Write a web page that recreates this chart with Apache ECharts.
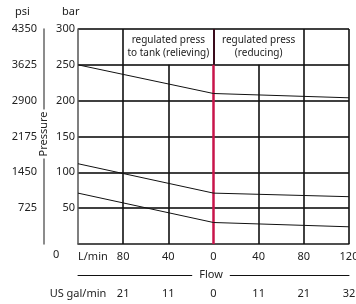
<!DOCTYPE html>
<html>
<head>
<meta charset="utf-8">
<script src="https://cdn.jsdelivr.net/npm/echarts@6/dist/echarts.min.js"></script>
<style>
  html, body { margin: 0; padding: 0; background: #fff; }
  #main { width: 356px; height: 304px; }
</style>
</head>
<body>
<div id="main"></div>
<script>
// flow, L/min (left half = relieving, shown as negative)
var flowTicks = [-120, -80, -40, 0, 40, 80, 120];
var lpmLabels = ['L/min', '80', '40', '0', '40', '80', '120'];
var gpmLabels = ['US gal/min', '21', '11', '0', '11', '21', '32'];

// pressure curves, bar
var flowPts = [-120, 0, 120];
var curveHigh = [250, 210, 204];
var curveMid = [112, 71, 66];
var curveLow = [71, 30, 24];

// grid columns
var fullCols = [-80, 80, 120];
var lowerCols = [-40, 40];
var cellNames = ['regulated press\nto tank (relieving)', 'regulated press\n(reducing)'];

var font = 'Noto Sans';
var txt = '#222';

function lblFrom(list) {
    return function (v) {
        var i = flowTicks.indexOf(v);
        return i < 0 ? '' : list[i];
    };
}

var chart = echarts.init(document.getElementById('main'));

var vLines = [];
fullCols.forEach(function (x) {
    vLines.push([{ coord: [x, 0] }, { coord: [x, 300] }]);
});
lowerCols.forEach(function (x) {
    vLines.push([{ coord: [x, 0] }, { coord: [x, 250] }]);
});
// centre line: red below the header, dark inside it
vLines.push([{ coord: [0, 0], lineStyle: { color: '#c8144a', width: 2.5 } }, { coord: [0, 250] }]);
vLines.push([{ coord: [0, 250], lineStyle: { color: '#3a0c1c', width: 2 } }, { coord: [0, 300] }]);

var option = {
    animation: false,
    textStyle: { fontFamily: font },
    grid: { left: 78, right: 7, top: 29, bottom: 60, outerBoundsMode: 'none' },
    xAxis: [{
        type: 'value', min: -120, max: 120, interval: 40,
        axisLine: { show: true, onZero: false, lineStyle: { color: '#555', width: 1.5 } },
        axisTick: { show: false },
        splitLine: { show: false },
        axisLabel: { color: txt, fontSize: 11, margin: 7, alignMinLabel: 'left', formatter: lblFrom(lpmLabels) }
    }, {
        type: 'value', min: -120, max: 120, interval: 40, position: 'bottom', offset: 31,
        axisLine: { show: true, onZero: false, lineStyle: { color: '#111', width: 1 } },
        axisTick: { show: false },
        splitLine: { show: false },
        axisLabel: { color: txt, fontSize: 11, margin: 13, formatter: lblFrom(gpmLabels) }
    }],
    yAxis: [{
        type: 'value', min: 0, max: 300, interval: 50,
        axisLine: { show: true, onZero: false, lineStyle: { color: '#555', width: 1.5 } },
        axisTick: { show: false },
        splitLine: { show: true, lineStyle: { color: '#000', width: 1.6 } },
        axisLabel: { color: txt, fontSize: 11, margin: 3, formatter: function (v) { return v === 0 ? '' : v; } }
    }, {
        type: 'value', min: 0, max: 4350, interval: 725, position: 'left', offset: 34,
        axisLine: { show: true, onZero: false, lineStyle: { color: '#666', width: 1.5 } },
        axisTick: { show: false },
        splitLine: { show: false },
        axisLabel: { color: txt, fontSize: 11, margin: 7, formatter: function (v) { return v === 0 ? '' : v; } }
    }],
    graphic: [
        { type: 'text', left: 15, top: 6, style: { text: 'psi', fontSize: 11, fontFamily: font, fill: txt } },
        { type: 'text', left: 62, top: 6, style: { text: 'bar', fontSize: 11, fontFamily: font, fill: txt } },
        { type: 'text', left: 53, top: 249, style: { text: '0', fontSize: 11, fontFamily: font, fill: txt } },
        { type: 'text', x: 44, y: 134, rotation: Math.PI / 2, z: 100,
          style: { text: 'Pressure', fontSize: 11, fontFamily: font, fill: txt, align: 'center', verticalAlign: 'middle', backgroundColor: '#fff', padding: [0, 2] } },
        { type: 'text', x: 211, y: 275, z: 100,
          style: { text: 'Flow', fontSize: 11, fontFamily: font, fill: txt, align: 'center', verticalAlign: 'middle', backgroundColor: '#fff', padding: [0, 7] } }
    ],
    series: [{
        type: 'line', data: flowPts.map(function (x, i) { return [x, curveHigh[i]]; }),
        symbol: 'none', lineStyle: { color: '#111', width: 1 }, z: 5,
        markLine: { silent: true, symbol: 'none', label: { show: false }, lineStyle: { color: '#111', width: 1.6, type: 'solid' }, data: vLines },
        markArea: {
            silent: true,
            itemStyle: { color: 'rgba(0,0,0,0)' },
            label: { show: true, position: 'inside', color: txt, fontSize: 10, lineHeight: 13, fontFamily: font },
            data: [
                [{ coord: [-80, 250], name: cellNames[0] }, { coord: [0, 300] }],
                [{ coord: [0, 250], name: cellNames[1] }, { coord: [80, 300] }]
            ]
        }
    }, {
        type: 'line', data: flowPts.map(function (x, i) { return [x, curveMid[i]]; }),
        symbol: 'none', lineStyle: { color: '#111', width: 1 }, z: 5
    }, {
        type: 'line', data: flowPts.map(function (x, i) { return [x, curveLow[i]]; }),
        symbol: 'none', lineStyle: { color: '#111', width: 1 }, z: 5
    }]
};

chart.setOption(option);
</script>
</body>
</html>
